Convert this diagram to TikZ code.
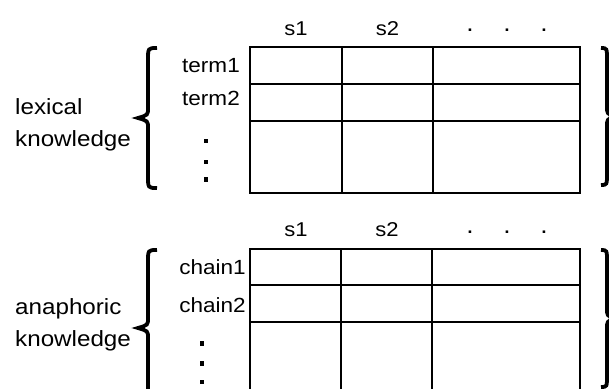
\documentclass[tikz,border=0pt]{standalone}
\usepackage{fontspec}
\setmainfont{Liberation Sans}[FakeStretch=1.1]
\newcommand\mybrace[6]{% xend xstem xtip ytop ymid ybot
  \draw[bracestroke] (#1,#4) .. controls (#2,#4) .. (#2,#4+12)
    -- (#2,#5-10) .. controls (#2,#5-3) .. (#3,#5)
    .. controls (#2,#5+3) .. (#2,#5+10)
    -- (#2,#6-12) .. controls (#2,#6) .. (#1,#6);}
\begin{document}
\begin{tikzpicture}[x=1pt,y=-1pt,
  grid/.style={line width=1.6pt},
  bracestroke/.style={line width=3.8pt},
  biglabel/.style={inner sep=0pt,anchor=base west,font=\fontsize{22}{26}\selectfont},
  rowlabel/.style={inner sep=0pt,anchor=base east,font=\fontsize{20.5}{24}\selectfont},
  head/.style={inner sep=0pt,anchor=base,font=\fontsize{20}{24}\selectfont},
  hdot/.style={inner sep=0pt,anchor=base,text height=3pt,text depth=0pt,font=\fontsize{24}{28}\selectfont},
  vdot/.style={fill=black,draw=none,inner sep=0pt,minimum width=3.8pt,minimum height=4.6pt,rectangle}]
\useasboundingbox (0,0) rectangle (609,388);
\clip (0,0) rectangle (609,388);
% top table
\draw[grid] (250,47) rectangle (580,193);
\draw[grid] (250,84) -- (580,84) (250,121) -- (580,121)
  (342,47) -- (342,193) (433,47) -- (433,193);
% bottom table
\draw[grid] (250,249) rectangle (580,400);
\draw[grid] (250,285) -- (580,285) (250,322) -- (580,322)
  (341,249) -- (341,400) (432,249) -- (432,400);
% headers
\node[head] (s1a) at (296,35) {s1};
\node[head] (s2a) at (387.5,35) {s2};
\node[hdot] (da1) at (470,31.5) {.};
\node[hdot] (da2) at (507,31.5) {.};
\node[hdot] (da3) at (544,31.5) {.};
\node[head] (s1b) at (296,236) {s1};
\node[head] (s2b) at (387,236) {s2};
\node[hdot] (db1) at (470,233) {.};
\node[hdot] (db2) at (507,233) {.};
\node[hdot] (db3) at (544,233) {.};
% row labels
\node[rowlabel] (t1) at (240,72.3) {term1};
\node[rowlabel] (t2) at (240,105) {term2};
\node[vdot] (v1) at (206,141) {};
\node[vdot] (v2) at (206,162) {};
\node[vdot] (v3) at (206,179.5) {};
\node[rowlabel] (c1) at (246,274) {chain1};
\node[rowlabel] (c2) at (246,312.5) {chain2};
\node[vdot] (w1) at (202,343.7) {};
\node[vdot] (w2) at (202,363.7) {};
\node[vdot] (w3) at (202,382) {};
% left labels
\node[biglabel] (lexa) at (15,114) {lexical};
\node[biglabel] (lexb) at (15,146.7) {knowledge};
\node[biglabel] (anaa) at (15,314) {anaphoric};
\node[biglabel] (anab) at (15,346.7) {knowledge};
% braces
\mybrace{157}{148}{138}{48}{118}{188}
\mybrace{157}{148}{138}{250}{328}{406}
\mybrace{601}{607}{614}{48}{116.5}{185}
\mybrace{601}{607}{614}{250}{318.5}{387}
\end{tikzpicture}
\end{document}
